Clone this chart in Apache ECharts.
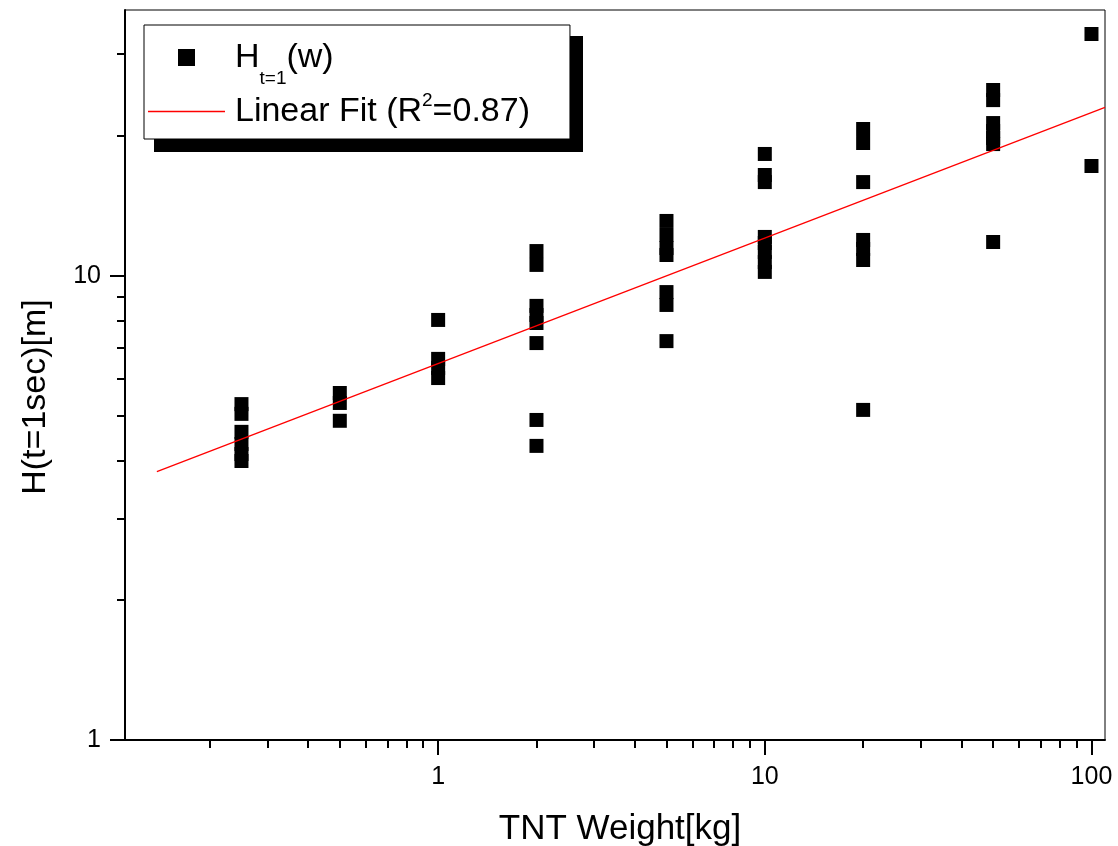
<!DOCTYPE html>
<html>
<head>
<meta charset="utf-8">
<script src="https://cdn.jsdelivr.net/npm/echarts@6/dist/echarts.min.js"></script>
<style>
html,body{margin:0;padding:0;background:#fff;}
#chart{width:1118px;height:846px;}
</style>
</head>
<body>
<div id="chart"></div>
<script>
// ---- data ----
const weights = [0.25, 0.5, 1, 2, 5, 10, 20, 50, 100];
const heights = [
  [5.29, 5.04, 4.61, 4.34, 4.13, 3.99],
  [5.59, 5.32, 4.87],
  [8.03, 6.62, 6.33, 6.02],
  [11.30, 10.55, 8.61, 8.23, 7.91, 7.16, 4.89, 4.30],
  [13.12, 12.24, 11.47, 11.08, 9.22, 8.65, 7.23],
  [18.29, 16.48, 15.91, 12.12, 11.76, 11.25, 10.70, 10.19],
  [20.70, 19.31, 15.91, 11.94, 11.42, 10.81, 5.14],
  [25.12, 23.89, 21.32, 20.50, 19.80, 19.21, 11.82],
  [33.16, 17.23]
];
const fitX = [0.1377, 110];
const fitY = [3.785, 23.05];
const seriesNames = ['Ht=1(w)', 'Linear Fit (R2=0.87)'];
const xTitle = 'TNT Weight[kg]';
const yTitle = 'H(t=1sec)[m]';
const xRange = [0.11, 110];
const yRange = [1, 37.35];
const xMajor = [1, 10, 100];
const xMinor = [0.2, 0.3, 0.4, 0.5, 0.6, 0.7, 0.8, 0.9, 2, 3, 4, 5, 6, 7, 8, 9, 20, 30, 40, 50, 60, 70, 80, 90];
const yMajor = [1, 10];
const yMinor = [2, 3, 4, 5, 6, 7, 8, 9, 20, 30];
const xTickLabels = ['1', '10', '100'];
const yTickLabels = ['1', '10'];

// ---- build ----
const scatterData = [];
weights.forEach((w, i) => heights[i].forEach(h => scatterData.push([w, h])));
const fitData = fitX.map((x, i) => [x, fitY[i]]);

const FONT = 'Liberation Sans, Arial, sans-serif';
const chart = echarts.init(document.getElementById('chart'), null, {renderer: 'canvas'});

function labelFmt(major, labels) {
  return v => { const k = major.findIndex(m => Math.abs(m - v) / m < 1e-6); return k >= 0 ? labels[k] : ''; };
}
function majorAxis(range, major, labels, margin, extra) {
  return Object.assign({
    type: 'log', logBase: 10, min: range[0], max: range[1], gridIndex: 0,
    axisLine: {show: true, onZero: false, lineStyle: {color: '#000', width: 2}},
    axisTick: {show: true, inside: false, length: 15, lineStyle: {color: '#000', width: 2}, customValues: major},
    minorTick: {show: false},
    splitLine: {show: false},
    axisLabel: {
      show: true, customValues: major, color: '#000', fontSize: 25, fontFamily: FONT,
      margin: margin, formatter: labelFmt(major, labels)
    }
  }, extra);
}
function minorAxis(range, minor, extra) {
  return Object.assign({
    type: 'log', logBase: 10, min: range[0], max: range[1], gridIndex: 0,
    axisLine: {show: false, onZero: false},
    axisTick: {show: true, inside: false, length: 8, lineStyle: {color: '#000', width: 2}, customValues: minor},
    minorTick: {show: false},
    splitLine: {show: false},
    axisLabel: {show: false}
  }, extra);
}

const option = {
  backgroundColor: '#fff',
  animation: false,
  grid: {
    left: 125, top: 10, width: 980, height: 730,
    show: true, borderColor: '#000', borderWidth: 1, backgroundColor: 'transparent',
    containLabel: false, outerBoundsMode: 'none'
  },
  graphic: [{
    // hard drop shadow behind the legend box
    type: 'rect', z: 1, silent: true,
    shape: {x: 154, y: 36, width: 429, height: 116},
    style: {fill: '#000'}
  }],
  xAxis: [
    majorAxis(xRange, xMajor, xTickLabels, 25, {
      position: 'bottom',
      name: xTitle, nameLocation: 'middle', nameGap: 72,
      nameTextStyle: {color: '#000', fontSize: 35, fontFamily: FONT, padding: [0, 0, 0, 10]}
    }),
    minorAxis(xRange, xMinor, {position: 'bottom'})
  ],
  yAxis: [
    majorAxis(yRange, yMajor, yTickLabels, 24, {
      position: 'left',
      name: yTitle, nameLocation: 'middle', nameGap: 72, nameRotate: 90,
      nameTextStyle: {color: '#000', fontSize: 34, fontFamily: FONT, padding: [0, 44, 0, 0]}
    }),
    minorAxis(yRange, yMinor, {position: 'left'})
  ],
  legend: {
    show: true, orient: 'vertical', left: 144, top: 25, z: 5,
    selectedMode: false,
    backgroundColor: '#fff', borderColor: '#000', borderWidth: 1,
    padding: [15.5, 40, 10.5, 4],
    itemGap: 3, itemWidth: 77, itemHeight: 17,
    data: [
      {name: seriesNames[0], icon: 'path://M0 0H10V10H0Z'},
      {name: seriesNames[1], icon: 'path://M0 0H77V1.3H0Z'}
    ],
    formatter: name => name === seriesNames[0]
      ? '{a|H}{s|t=1}{a|(w)}'
      : '{b|Linear Fit (R}{p|2}{b|=0.87)}',
    textStyle: {
      color: '#000', fontFamily: FONT, fontSize: 34, padding: [0, 0, 0, 5],
      rich: {
        a: {fontSize: 34, fontFamily: FONT, color: '#000', lineHeight: 62},
        s: {fontSize: 19, fontFamily: FONT, color: '#000', lineHeight: 19, verticalAlign: 'bottom'},
        b: {fontSize: 34, fontFamily: FONT, color: '#000', lineHeight: 40},
        p: {fontSize: 19, fontFamily: FONT, color: '#000', lineHeight: 24, verticalAlign: 'top'}
      }
    }
  },
  series: [
    {
      name: seriesNames[0], type: 'scatter', xAxisIndex: 0, yAxisIndex: 0,
      symbol: 'rect', symbolSize: 14,
      itemStyle: {color: '#000', opacity: 1},
      data: scatterData, z: 3
    },
    {
      name: seriesNames[1], type: 'line', xAxisIndex: 0, yAxisIndex: 0,
      symbol: 'none', showSymbol: false,
      lineStyle: {color: '#ff0000', width: 1.3},
      itemStyle: {color: '#ff0000'},
      data: fitData, z: 4
    }
  ]
};
chart.setOption(option);
</script>
</body>
</html>
